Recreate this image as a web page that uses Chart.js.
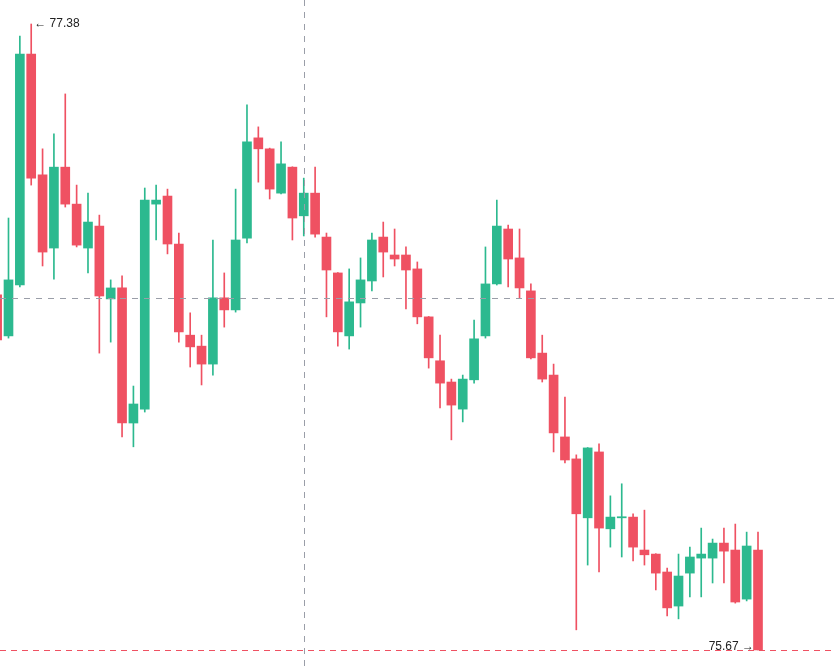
<!DOCTYPE html>
<html>
<head>
<meta charset="utf-8">
<script src="https://cdn.jsdelivr.net/npm/chart.js@4"></script>
<style>
  html, body { margin: 0; padding: 0; background: #fff; }
  #wrap { width: 835px; height: 667px; }
</style>
</head>
<body>
<div id="wrap"><canvas id="priceChart"></canvas></div>
<script>
// OHLC per bar, oldest first (first bar is cut off at the left edge)
const opens = [76.640, 76.528, 76.667, 77.298, 76.968, 76.768, 76.989, 76.888, 76.768, 76.828,
    76.629, 76.659, 76.290, 76.328, 76.888, 76.910, 76.779, 76.530, 76.500, 76.451,
    76.632, 76.599, 76.795, 77.069, 77.039, 76.918, 76.989, 76.856, 76.918, 76.798,
    76.700, 76.528, 76.618, 76.678, 76.798, 76.749, 76.749, 76.711, 76.580, 76.460,
    76.402, 76.328, 76.408, 76.528, 76.670, 76.820, 76.741, 76.651, 76.481, 76.421,
    76.252, 76.192, 76.031, 76.211, 76.001, 76.031, 76.033, 75.943, 75.932, 75.883,
    75.790, 75.880, 75.921, 75.921, 75.962, 75.943, 75.809, 75.943];
const highs = [76.653, 76.850, 77.347, 77.380, 77.039, 77.080, 77.189, 76.940, 76.918, 76.858,
    76.681, 76.692, 76.391, 76.932, 76.940, 76.929, 76.809, 76.591, 76.530, 76.790,
    76.700, 76.929, 77.159, 77.099, 77.041, 77.058, 76.990, 76.959, 76.989, 76.809,
    76.701, 76.711, 76.741, 76.809, 76.839, 76.820, 76.771, 76.730, 76.581, 76.530,
    76.410, 76.421, 76.571, 76.771, 76.899, 76.831, 76.820, 76.670, 76.530, 76.451,
    76.361, 76.203, 76.223, 76.233, 76.091, 76.124, 76.042, 76.052, 75.933, 75.894,
    75.932, 75.951, 76.003, 75.973, 76.003, 76.014, 75.992, 75.992];
const lows = [76.503, 76.522, 76.662, 76.940, 76.719, 76.683, 76.880, 76.771, 76.700, 76.481,
    76.511, 76.252, 76.225, 76.320, 76.790, 76.752, 76.511, 76.443, 76.394, 76.421,
    76.552, 76.593, 76.782, 76.948, 76.902, 76.916, 76.790, 76.801, 76.798, 76.580,
    76.500, 76.492, 76.552, 76.651, 76.689, 76.719, 76.602, 76.561, 76.440, 76.331,
    76.244, 76.293, 76.399, 76.522, 76.667, 76.662, 76.632, 76.465, 76.402, 76.211,
    76.181, 75.725, 75.902, 75.883, 75.951, 75.924, 75.913, 75.902, 75.834, 75.763,
    75.755, 75.815, 75.815, 75.853, 75.853, 75.798, 75.804, 75.670];
const closes = [76.517, 76.681, 77.298, 76.959, 76.757, 76.989, 76.888, 76.776, 76.839, 76.637,
    76.659, 76.290, 76.342, 76.899, 76.899, 76.779, 76.539, 76.498, 76.451, 76.632,
    76.599, 76.790, 77.058, 77.039, 76.929, 76.998, 76.850, 76.918, 76.806, 76.708,
    76.539, 76.621, 76.681, 76.790, 76.757, 76.738, 76.708, 76.580, 76.468, 76.399,
    76.339, 76.410, 76.520, 76.670, 76.828, 76.738, 76.659, 76.468, 76.410, 76.263,
    76.189, 76.042, 76.222, 76.003, 76.033, 76.034, 75.951, 75.930, 75.880, 75.785,
    75.872, 75.924, 75.932, 75.962, 75.940, 75.801, 75.954, 75.670];

// where the mouse crosshair sits
const crossIndex = 27;
const crossPrice = 76.632;

const upColor = "#2cb98f";
const downColor = "#ef5162";

const bodies = opens.map((o, i) => ({ x: i, y: [o, closes[i]] }));
const wicks = lows.map((l, i) => ({ x: i, y: [l, highs[i]] }));
const colors = opens.map((o, i) => closes[i] >= o ? upColor : downColor);

const lastIndex = closes.length - 1;
let hiIndex = 0, loIndex = 0;
highs.forEach((h, i) => { if (h > highs[hiIndex]) hiIndex = i; });
lows.forEach((l, i) => { if (l < lows[loIndex]) loIndex = i; });

const overlay = {
    id: "overlay",
    beforeDatasetsDraw(chart) {
        const { ctx, chartArea, scales } = chart;
        // last price line
        const py = Math.round(scales.y.getPixelForValue(closes[lastIndex])) + 0.5;
        ctx.save();
        ctx.strokeStyle = colors[lastIndex];
        ctx.lineWidth = 1;
        ctx.setLineDash([6, 5]);
        ctx.beginPath();
        ctx.moveTo(chartArea.left, py);
        ctx.lineTo(chartArea.right, py);
        ctx.stroke();
        ctx.restore();
    },
    afterDatasetsDraw(chart) {
        const { ctx, chartArea, scales } = chart;
        ctx.save();
        // crosshair
        ctx.strokeStyle = "#9a9ea8";
        ctx.lineWidth = 1;
        ctx.setLineDash([6, 6]);
        const cx = Math.round(scales.x.getPixelForValue(crossIndex)) + 0.5;
        const cy = Math.round(scales.y.getPixelForValue(crossPrice)) + 0.5;
        ctx.beginPath();
        ctx.moveTo(cx, chartArea.top);
        ctx.lineTo(cx, chartArea.bottom);
        ctx.moveTo(chartArea.left, cy);
        ctx.lineTo(chartArea.right, cy);
        ctx.stroke();
        ctx.setLineDash([]);

        // high / low markers
        ctx.fillStyle = "#222";
        ctx.font = "12px 'Liberation Sans', Arial, sans-serif";
        ctx.textBaseline = "middle";
        const hx = scales.x.getPixelForValue(hiIndex);
        const hy = scales.y.getPixelForValue(highs[hiIndex]);
        ctx.textAlign = "left";
        ctx.fillText("\u2190 " + highs[hiIndex].toFixed(2), hx + 3, hy);
        const lx = scales.x.getPixelForValue(loIndex);
        const ly = scales.y.getPixelForValue(lows[loIndex]);
        ctx.textAlign = "right";
        ctx.fillText(lows[loIndex].toFixed(2) + " \u2192", lx - 4, ly - 3);
        ctx.restore();
    }
};

const ctx = document.getElementById("priceChart").getContext("2d");

new Chart(ctx, {
    type: "bar",
    data: {
        datasets: [{
            label: "wick",
            data: wicks,
            backgroundColor: colors,
            barThickness: 1,
            grouped: false,
            order: 2
        }, {
            label: "body",
            data: bodies,
            backgroundColor: colors,
            barThickness: 9,
            minBarLength: 1,
            grouped: false,
            order: 1
        }]
    },
    options: {
        responsive: true,
        maintainAspectRatio: false,
        animation: false,
        layout: { padding: 0 },
        plugins: {
            legend: { display: false },
            tooltip: { enabled: false }
        },
        scales: {
            x: {
                type: "linear",
                display: false,
                min: 0.252,
                max: 73.78,
                offset: false
            },
            y: {
                display: false,
                min: 75.6235,
                max: 77.4456
            }
        }
    },
    plugins: [overlay]
});
</script>
</body>
</html>
